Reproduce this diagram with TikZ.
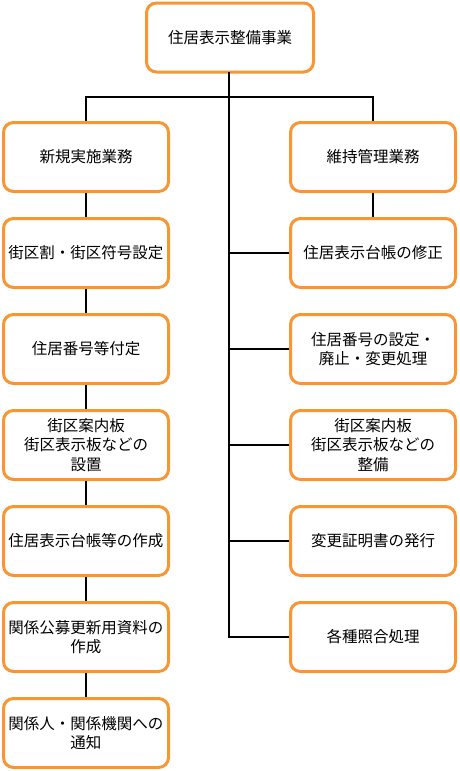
\documentclass[tikz,border=0pt]{standalone}
\usepackage{fontspec}
\setmainfont{Noto Sans CJK JP}
\definecolor{boxorange}{RGB}{247,150,51}
\tikzset{
  box/.style={draw=boxorange, line width=3pt, rounded corners=10pt, fill=white,
    minimum width=165pt, minimum height=69pt, align=center, inner sep=0pt,
    font=\fontsize{15.5pt}{19.5pt}\selectfont},
  link/.style={draw=black, line width=2.5pt}
}
\begin{document}
\begin{tikzpicture}[x=1pt,y=-1pt]
\useasboundingbox (0,0) rectangle (459,771);
\node[box, minimum width=167pt] (top) at (230,37.5) {住居表示整備事業};
\node[box] (l1) at (86,157) {新規実施業務};
\node[box] (l2) at (86,253) {街区割・街区符号設定};
\node[box] (l3) at (86,349) {住居番号等付定};
\node[box] (l4) at (86,445) {街区案内板\\街区表示板などの\\設置};
\node[box] (l5) at (86,541) {住居表示台帳等の作成};
\node[box] (l6) at (86,637) {関係公募更新用資料の\\作成};
\node[box] (l7) at (86,733) {関係人・関係機関への\\通知};
\node[box] (r1) at (373,157) {維持管理業務};
\node[box] (r2) at (373,253) {住居表示台帳の修正};
\node[box] (r3) at (373,349) {住居番号の設定・\\廃止・変更処理};
\node[box] (r4) at (373,445) {街区案内板\\街区表示板などの\\整備};
\node[box] (r5) at (373,541) {変更証明書の発行};
\node[box] (r6) at (373,637) {各種照合処理};
\coordinate (hub) at (229,97);
\coordinate (trunkend) at (229,637);
\draw[link, line cap=rect] (top.south -| hub) -- (trunkend);
\draw[link] (l1.north) -- (l1.north |- hub) -- (r1.north |- hub) -- (r1.north);
\draw[link] (l1) -- (l2);
\draw[link] (l2) -- (l3);
\draw[link] (l3) -- (l4);
\draw[link] (l4) -- (l5);
\draw[link] (l5) -- (l6);
\draw[link] (l6) -- (l7);
\draw[link] (r1) -- (r2);
\draw[link] (hub |- r2) -- (r2.west);
\draw[link] (hub |- r3) -- (r3.west);
\draw[link] (hub |- r4) -- (r4.west);
\draw[link] (hub |- r5) -- (r5.west);
\draw[link] (trunkend) -- (r6.west);
\end{tikzpicture}
\end{document}
